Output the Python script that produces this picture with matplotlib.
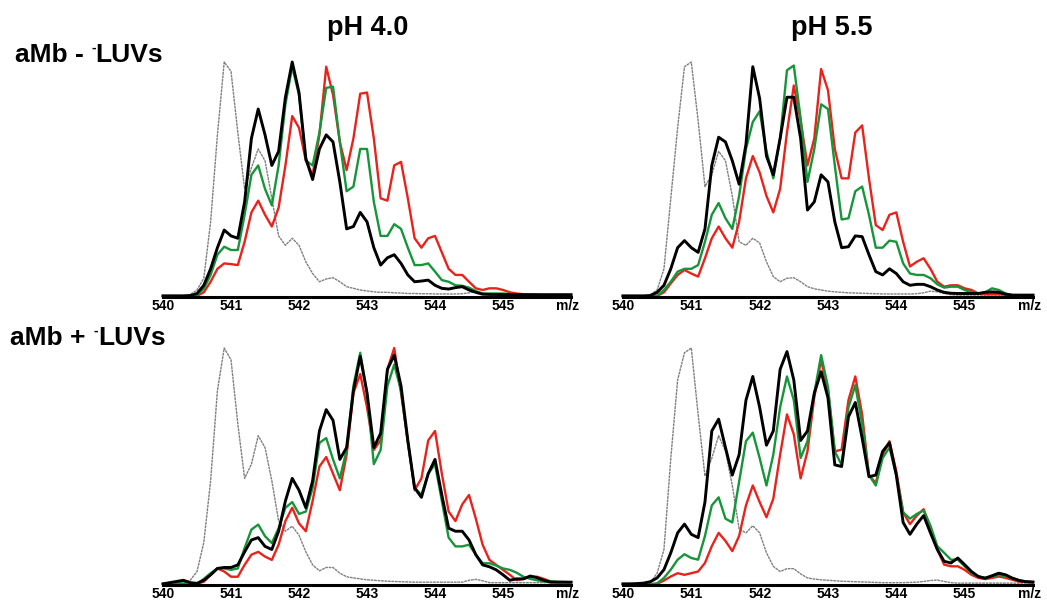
import numpy as np
import matplotlib
matplotlib.use("Agg")
import matplotlib.pyplot as plt

# m/z grid (0.1 step, 540 -> 546)
mz = np.round(np.arange(540.0, 546.01, 0.1), 1)

# ---- aMb - LUVs, pH 4.0 ----
tl_gray = [0.003, 0.003, 0.003, 0.005, 0.011, 0.03, 0.08, 0.32, 0.69, 1.0,
           0.96, 0.70, 0.46, 0.55, 0.63, 0.58, 0.42, 0.26, 0.22, 0.25,
           0.22, 0.15, 0.10, 0.065, 0.077, 0.082, 0.065, 0.044, 0.037, 0.03,
           0.026, 0.022, 0.02, 0.02, 0.018, 0.017, 0.015, 0.015, 0.014, 0.014,
           0.013, 0.013, 0.013, 0.013, 0.014, 0.018, 0.023, 0.015, 0.01, 0.008,
           0.008, 0.008, 0.008, 0.008, 0.008, 0.008, 0.008, 0.008, 0.008, 0.008,
           0.008]
tl_black = [0.005, 0.005, 0.005, 0.005, 0.006, 0.015, 0.05, 0.12, 0.21, 0.285,
            0.26, 0.25, 0.405, 0.675, 0.80, 0.69, 0.56, 0.62, 0.85, 1.0,
            0.87, 0.59, 0.50, 0.63, 0.69, 0.66, 0.49, 0.29, 0.30, 0.36,
            0.32, 0.21, 0.136, 0.167, 0.18, 0.143, 0.094, 0.065, 0.068, 0.072,
            0.05, 0.037, 0.034, 0.04, 0.044, 0.03, 0.02, 0.012, 0.011, 0.011,
            0.01, 0.01, 0.01, 0.01, 0.01, 0.01, 0.01, 0.01, 0.01, 0.01,
            0.01]
tl_green = [0.004, 0.004, 0.004, 0.004, 0.005, 0.01, 0.035, 0.094, 0.18, 0.214,
            0.20, 0.20, 0.35, 0.52, 0.56, 0.46, 0.39, 0.56, 0.82, 0.98,
            0.86, 0.58, 0.56, 0.70, 0.89, 0.895, 0.66, 0.45, 0.47, 0.63,
            0.63, 0.405, 0.26, 0.26, 0.31, 0.29, 0.21, 0.136, 0.136, 0.143,
            0.108, 0.072, 0.065, 0.05, 0.048, 0.04, 0.025, 0.015, 0.015, 0.015,
            0.015, 0.012, 0.01, 0.01, 0.01, 0.01, 0.008, 0.008, 0.008, 0.008,
            0.008]
tl_red = [0.003, 0.003, 0.003, 0.003, 0.003, 0.005, 0.02, 0.065, 0.12, 0.143,
          0.14, 0.136, 0.235, 0.36, 0.41, 0.35, 0.30, 0.38, 0.56, 0.77,
          0.72, 0.58, 0.52, 0.69, 0.98, 0.86, 0.66, 0.54, 0.675, 0.865,
          0.87, 0.675, 0.42, 0.41, 0.56, 0.575, 0.42, 0.25, 0.21, 0.25,
          0.26, 0.19, 0.12, 0.094, 0.094, 0.065, 0.037, 0.03, 0.037, 0.037,
          0.03, 0.02, 0.015, 0.012, 0.01, 0.008, 0.008, 0.008, 0.008, 0.008,
          0.008]

# ---- aMb - LUVs, pH 5.5 ----
tr_gray = [0.003, 0.003, 0.003, 0.004, 0.01, 0.03, 0.12, 0.42, 0.72, 0.98,
           1.0, 0.75, 0.47, 0.52, 0.62, 0.58, 0.43, 0.235, 0.22, 0.25,
           0.23, 0.15, 0.087, 0.065, 0.08, 0.082, 0.065, 0.044, 0.035, 0.03,
           0.025, 0.022, 0.02, 0.018, 0.017, 0.016, 0.015, 0.014, 0.013, 0.013,
           0.013, 0.013, 0.013, 0.014, 0.018, 0.025, 0.022, 0.015, 0.01, 0.008,
           0.008, 0.008, 0.008, 0.008, 0.008, 0.008, 0.008, 0.008, 0.008, 0.008,
           0.008]
tr_black = [0.005, 0.005, 0.005, 0.005, 0.006, 0.02, 0.05, 0.12, 0.21, 0.24,
            0.21, 0.19, 0.29, 0.56, 0.68, 0.66, 0.58, 0.48, 0.65, 0.98,
            0.845, 0.60, 0.52, 0.675, 0.85, 0.85, 0.675, 0.37, 0.405, 0.52,
            0.49, 0.32, 0.21, 0.214, 0.26, 0.257, 0.18, 0.108, 0.094, 0.12,
            0.10, 0.065, 0.05, 0.054, 0.054, 0.044, 0.03, 0.02, 0.016, 0.015,
            0.015, 0.015, 0.015, 0.02, 0.022, 0.02, 0.012, 0.008, 0.008, 0.008,
            0.008]
tr_green = [0.003, 0.003, 0.003, 0.003, 0.004, 0.005, 0.03, 0.065, 0.108, 0.12,
            0.12, 0.136, 0.235, 0.35, 0.40, 0.335, 0.29, 0.43, 0.63, 0.745,
            0.79, 0.62, 0.505, 0.675, 0.965, 0.985, 0.76, 0.49, 0.63, 0.82,
            0.80, 0.56, 0.33, 0.335, 0.45, 0.47, 0.35, 0.21, 0.21, 0.24,
            0.235, 0.143, 0.10, 0.094, 0.094, 0.08, 0.054, 0.04, 0.044, 0.044,
            0.03, 0.02, 0.015, 0.02, 0.037, 0.03, 0.015, 0.008, 0.008, 0.008,
            0.008]
tr_red = [0.003, 0.003, 0.003, 0.003, 0.003, 0.005, 0.02, 0.058, 0.094, 0.115,
          0.10, 0.087, 0.165, 0.25, 0.30, 0.25, 0.21, 0.32, 0.505, 0.60,
          0.53, 0.43, 0.36, 0.46, 0.70, 0.90, 0.75, 0.56, 0.675, 0.97,
          0.88, 0.63, 0.505, 0.505, 0.70, 0.73, 0.505, 0.306, 0.285, 0.35,
          0.36, 0.235, 0.13, 0.15, 0.165, 0.12, 0.065, 0.044, 0.05, 0.05,
          0.037, 0.03, 0.015, 0.012, 0.012, 0.012, 0.01, 0.008, 0.008, 0.008,
          0.008]

# ---- aMb + LUVs, pH 4.0 ----
bl_gray = [0.003, 0.003, 0.003, 0.005, 0.02, 0.057, 0.18, 0.44, 0.82, 1.0,
           0.95, 0.68, 0.45, 0.51, 0.63, 0.58, 0.44, 0.27, 0.227, 0.248,
           0.21, 0.14, 0.085, 0.06, 0.074, 0.074, 0.05, 0.035, 0.03, 0.026,
           0.022, 0.02, 0.018, 0.016, 0.015, 0.014, 0.013, 0.012, 0.012, 0.012,
           0.012, 0.012, 0.012, 0.012, 0.012, 0.02, 0.024, 0.018, 0.01, 0.01,
           0.01, 0.01, 0.01, 0.01, 0.01, 0.01, 0.01, 0.01, 0.01, 0.01,
           0.01]
bl_black = [0.005, 0.01, 0.015, 0.02, 0.01, 0.007, 0.02, 0.043, 0.07, 0.074,
            0.074, 0.085, 0.14, 0.19, 0.20, 0.163, 0.15, 0.227, 0.355, 0.45,
            0.40, 0.326, 0.44, 0.65, 0.74, 0.695, 0.53, 0.58, 0.82, 0.965,
            0.81, 0.58, 0.64, 0.91, 0.97, 0.84, 0.61, 0.41, 0.37, 0.47,
            0.53, 0.38, 0.24, 0.227, 0.227, 0.19, 0.128, 0.085, 0.077, 0.064,
            0.043, 0.02, 0.026, 0.026, 0.038, 0.031, 0.02, 0.012, 0.012, 0.012,
            0.012]
bl_green = [0.005, 0.008, 0.012, 0.015, 0.008, 0.005, 0.026, 0.05, 0.07, 0.07,
            0.064, 0.07, 0.156, 0.234, 0.255, 0.206, 0.177, 0.24, 0.326, 0.35,
            0.30, 0.31, 0.41, 0.60, 0.62, 0.53, 0.45, 0.57, 0.84, 0.98,
            0.81, 0.51, 0.57, 0.84, 0.93, 0.82, 0.60, 0.41, 0.38, 0.47,
            0.51, 0.355, 0.20, 0.163, 0.163, 0.17, 0.128, 0.092, 0.092, 0.082,
            0.07, 0.064, 0.052, 0.035, 0.026, 0.02, 0.015, 0.015, 0.014, 0.013,
            0.012]
bl_red = [0.004, 0.004, 0.004, 0.004, 0.004, 0.005, 0.014, 0.043, 0.07, 0.057,
          0.035, 0.035, 0.085, 0.128, 0.14, 0.12, 0.106, 0.17, 0.27, 0.326,
          0.26, 0.227, 0.355, 0.50, 0.54, 0.47, 0.40, 0.55, 0.81, 0.89,
          0.75, 0.57, 0.61, 0.91, 1.0, 0.81, 0.61, 0.40, 0.45, 0.61,
          0.65, 0.47, 0.31, 0.27, 0.34, 0.38, 0.28, 0.17, 0.106, 0.085,
          0.064, 0.043, 0.02, 0.026, 0.035, 0.035, 0.026, 0.015, 0.012, 0.012,
          0.012]

# ---- aMb + LUVs, pH 5.5 ----
br_gray = [0.003, 0.003, 0.003, 0.004, 0.01, 0.05, 0.15, 0.535, 0.865, 0.98,
           1.0, 0.72, 0.46, 0.535, 0.63, 0.565, 0.42, 0.236, 0.22, 0.25,
           0.22, 0.136, 0.079, 0.057, 0.069, 0.069, 0.047, 0.03, 0.025, 0.022,
           0.02, 0.018, 0.016, 0.015, 0.014, 0.013, 0.012, 0.011, 0.01, 0.01,
           0.01, 0.01, 0.011, 0.012, 0.015, 0.019, 0.021, 0.015, 0.01, 0.008,
           0.008, 0.008, 0.008, 0.008, 0.008, 0.008, 0.008, 0.008, 0.008, 0.008,
           0.008]
br_black = [0.005, 0.005, 0.006, 0.008, 0.014, 0.03, 0.065, 0.136, 0.22, 0.257,
            0.214, 0.20, 0.35, 0.65, 0.70, 0.58, 0.464, 0.55, 0.78, 0.88,
            0.75, 0.59, 0.65, 0.91, 0.985, 0.865, 0.61, 0.65, 0.81, 0.90,
            0.79, 0.507, 0.50, 0.71, 0.77, 0.62, 0.457, 0.464, 0.564, 0.60,
            0.464, 0.264, 0.214, 0.257, 0.293, 0.22, 0.15, 0.10, 0.093, 0.114,
            0.086, 0.057, 0.036, 0.029, 0.039, 0.05, 0.043, 0.029, 0.019, 0.014,
            0.012]
br_green = [0.003, 0.003, 0.003, 0.003, 0.004, 0.007, 0.03, 0.065, 0.107, 0.13,
            0.114, 0.107, 0.207, 0.336, 0.37, 0.28, 0.264, 0.436, 0.607, 0.643,
            0.536, 0.42, 0.55, 0.75, 0.88, 0.78, 0.536, 0.607, 0.81, 0.97,
            0.836, 0.564, 0.507, 0.75, 0.843, 0.68, 0.464, 0.42, 0.536, 0.58,
            0.464, 0.307, 0.28, 0.30, 0.314, 0.25, 0.164, 0.136, 0.107, 0.107,
            0.079, 0.05, 0.036, 0.03, 0.036, 0.043, 0.036, 0.029, 0.02, 0.014,
            0.012]
br_red = [0.003, 0.003, 0.003, 0.003, 0.003, 0.005, 0.019, 0.036, 0.05, 0.043,
          0.05, 0.057, 0.093, 0.164, 0.22, 0.186, 0.143, 0.207, 0.336, 0.42,
          0.35, 0.286, 0.364, 0.55, 0.72, 0.636, 0.45, 0.564, 0.793, 0.95,
          0.82, 0.564, 0.571, 0.78, 0.88, 0.72, 0.464, 0.43, 0.55, 0.607,
          0.48, 0.307, 0.257, 0.293, 0.32, 0.243, 0.15, 0.086, 0.079, 0.079,
          0.064, 0.043, 0.03, 0.025, 0.03, 0.036, 0.03, 0.022, 0.014, 0.014,
          0.014]

tick_vals = [540, 541, 542, 543, 544, 545, 545.95]
tick_labels = ["540", "541", "542", "543", "544", "545", "m/z"]

plt.rcParams["font.family"] = ["Liberation Sans", "DejaVu Sans"]


def draw_panel(ax, gray, red, green, black):
    ax.plot(mz, gray, color="#808080", lw=1.0, ls=(0, (2.0, 0.5)), clip_on=False)
    ax.plot(mz, red, color="#e8231c", lw=1.7, clip_on=False)
    ax.plot(mz, green, color="#16953a", lw=1.7, clip_on=False)
    ax.plot(mz, black, color="black", lw=2.1, clip_on=False)
    ax.set_xlim(540, 546)
    ax.set_ylim(0, 1.0)
    for s in ["left", "right", "top"]:
        ax.spines[s].set_visible(False)
    ax.spines["bottom"].set_linewidth(2.2)
    ax.set_yticks([])
    ax.set_xticks(tick_vals)
    ax.set_xticklabels(tick_labels, fontsize=10, fontweight="bold")
    ax.tick_params(axis="x", length=0, pad=1.5)
    ax.patch.set_alpha(0)


def row_label(fig, x, y, sign):
    # "aMb -/+ " then a small raised minus, then "LUVs"
    t1 = fig.text(x, y, "aMb " + sign, ha="left", va="bottom",
                  fontsize=19, fontweight="bold")
    plt.annotate("-", xy=(1, 0), xycoords=t1, xytext=(5.5, 9),
                 textcoords="offset points", fontsize=10, fontweight="bold",
                 ha="left", va="bottom")
    plt.annotate("LUVs", xy=(1, 0), xycoords=t1, xytext=(8.5, 0),
                 textcoords="offset points", fontsize=19, fontweight="bold",
                 ha="left", va="bottom")


fig = plt.figure(figsize=(10.47, 6.02), dpi=100)

ax_tl = fig.add_axes([0.1557, 0.5066, 0.3897, 0.3904])
ax_tr = fig.add_axes([0.5950, 0.5066, 0.3916, 0.3904])
ax_bl = fig.add_axes([0.1557, 0.0282, 0.3897, 0.3937])
ax_br = fig.add_axes([0.5950, 0.0282, 0.3916, 0.3937])

draw_panel(ax_tl, tl_gray, tl_red, tl_green, tl_black)
draw_panel(ax_tr, tr_gray, tr_red, tr_green, tr_black)
draw_panel(ax_bl, bl_gray, bl_red, bl_green, bl_black)
draw_panel(ax_br, br_gray, br_red, br_green, br_black)

# column titles and row labels
fig.text(0.3515, 0.953, "pH 4.0", ha="center", va="center", fontsize=19.5, fontweight="bold")
fig.text(0.7947, 0.953, "pH 5.5", ha="center", va="center", fontsize=19.5, fontweight="bold")
row_label(fig, 0.014, 0.888, "-")
row_label(fig, 0.010, 0.418, "+")

fig.savefig("out.png", dpi=100)
